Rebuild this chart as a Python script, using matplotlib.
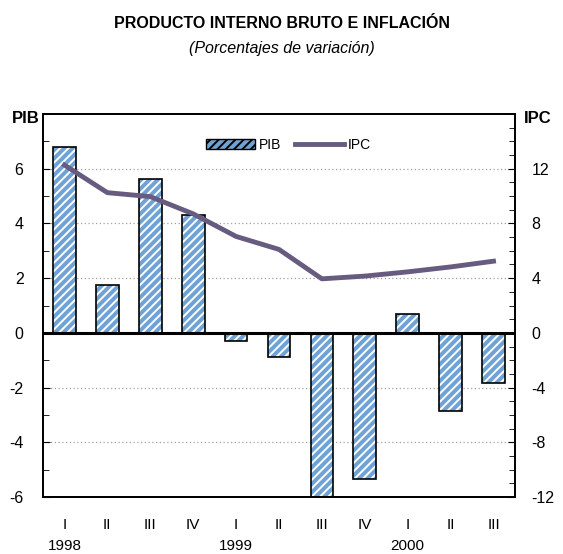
import numpy as np
import matplotlib.pyplot as plt
from matplotlib.patches import Patch
from matplotlib.lines import Line2D

plt.rcParams['font.family'] = ['Liberation Sans', 'DejaVu Sans']
plt.rcParams['hatch.linewidth'] = 1.4
plt.rcParams['axes.unicode_minus'] = False

# datos
trimestres = ['I', 'II', 'III', 'IV', 'I', 'II', 'III', 'IV', 'I', 'II', 'III']
anios = {0: '1998', 4: '1999', 8: '2000'}
pib = [6.8, 1.75, 5.62, 4.3, -0.3, -0.87, -6.2, -5.36, 0.7, -2.85, -1.82]
ipc = [12.27, 10.25, 9.96, 8.7, 7.05, 6.1, 3.95, 4.15, 4.46, 4.82, 5.24]

azul = '#6FA3D6'
morado = '#675C80'

fig = plt.figure(figsize=(5.63, 5.54), dpi=100)
ax = fig.add_axes([0.0764, 0.1029, 0.8383, 0.6913])
ax2 = ax.twinx()

x = np.arange(len(pib))
# relleno rayado + contorno negro
ax.bar(x, pib, width=0.53, color=azul, edgecolor='white', hatch='////', linewidth=0, zorder=2)
ax.bar(x, pib, width=0.53, fill=False, edgecolor='black', linewidth=1.2, zorder=3)

ax.set_xlim(-0.5, len(pib) - 0.5)
ax.set_ylim(-6, 8)
ax.set_yticks([-6, -4, -2, 0, 2, 4, 6])
ax.set_yticks(np.arange(-6, 9, 1), minor=True)
ax.set_xticks(x)
ax.set_xticklabels(trimestres)
ax.tick_params(axis='x', length=0, pad=15, labelsize=11)
ax.tick_params(axis='y', which='both', direction='in', labelsize=11.5, pad=14)
ax.tick_params(axis='y', which='major', length=5)
ax.tick_params(axis='y', which='minor', length=4)
for i, a in anios.items():
    ax.annotate(a, xy=(i, 0), xycoords=('data', 'axes fraction'), xytext=(0, -35),
                textcoords='offset points', ha='center', va='center', fontsize=11)
for v in [-4, -2, 2, 4, 6]:
    ax.axhline(v, color='#A0A0A0', linestyle=(0, (1, 2)), linewidth=0.9, zorder=1)
ax.axhline(0, color='black', linewidth=2.2, zorder=4)

ax2.plot(x, ipc, color=morado, linewidth=3.5, zorder=5)
ax2.set_ylim(-12, 16)
ax2.set_yticks([-12, -8, -4, 0, 4, 8, 12])
ax2.set_yticks(np.arange(-12, 17, 1), minor=True)
ax2.tick_params(axis='y', which='both', direction='in', labelsize=11.5, pad=12)
ax2.tick_params(axis='y', which='major', length=5)
ax2.tick_params(axis='y', which='minor', length=4)

for a in (ax, ax2):
    for s in a.spines.values():
        s.set_linewidth(1.3)

fig.text(0.045, 0.787, 'PIB', fontsize=12, fontweight='bold', ha='center', va='center')
fig.text(0.955, 0.787, 'IPC', fontsize=12, fontweight='bold', ha='center', va='center')

fig.text(0.5, 0.958, 'PRODUCTO INTERNO BRUTO E INFLACIÓN', fontsize=11.5,
         fontweight='bold', ha='center', va='center')
fig.text(0.5, 0.913, '(Porcentajes de variación)', fontsize=11.5,
         style='italic', ha='center', va='center')

handles = [Patch(facecolor=azul, edgecolor='black', hatch='////', linewidth=1),
           Line2D([0], [0], color=morado, linewidth=3.5)]
ax2.legend(handles, ['PIB', 'IPC'], loc='upper center', bbox_to_anchor=(0.52, 0.97),
           ncol=2, frameon=False, fontsize=10, handlelength=3.5, handleheight=0.7,
           columnspacing=1.0, handletextpad=0.3)

fig.savefig('out.png', dpi=100)
